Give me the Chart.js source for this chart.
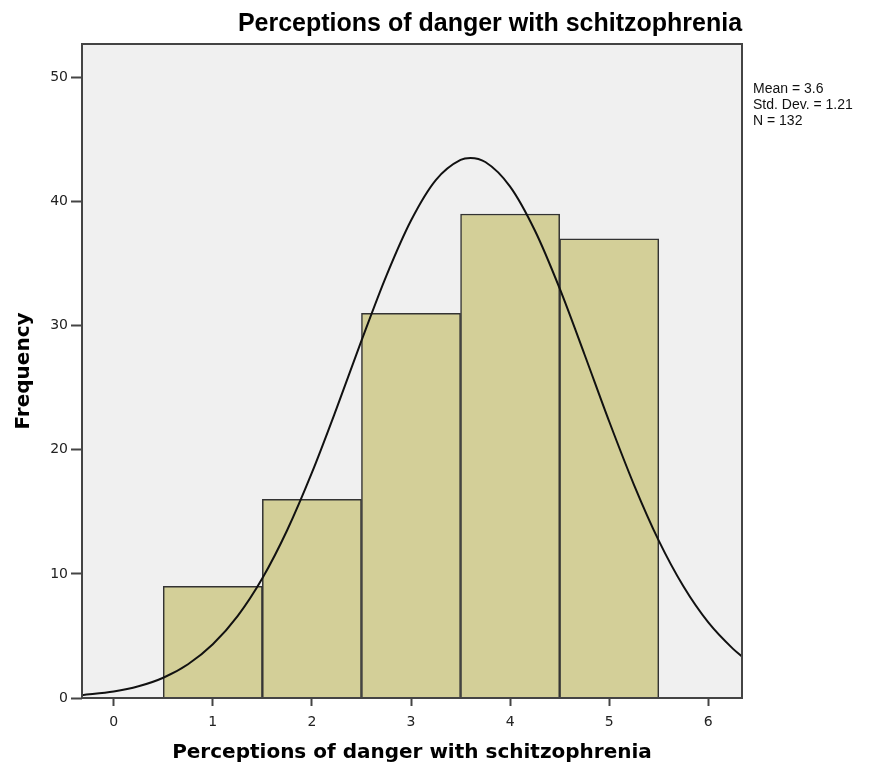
<!DOCTYPE html>
<html>
<head>
<meta charset="utf-8">
<script src="https://cdn.jsdelivr.net/npm/chart.js@4/dist/chart.umd.min.js"></script>
<style>
html,body{margin:0;padding:0;background:#fff;}
#wrap{width:878px;height:775px;position:relative;}
</style>
</head>
<body>
<div id="wrap"><canvas id="c" width="878" height="775"></canvas></div>
<script>
// Histogram data
const binCenters = [1, 2, 3, 4, 5];
const frequencies = [9, 16, 31, 39, 37];
// Normal curve points
const curveX = [-0.32, 0, 0.25, 0.5, 0.75, 1.0, 1.25, 1.5, 1.75, 2.0, 2.25, 2.5, 2.75, 3.0, 3.25, 3.5, 3.6, 3.75, 4.0, 4.25, 4.5, 4.75, 5.0, 5.25, 5.5, 5.75, 6.0, 6.25, 6.34];
const curveY = [0.23, 0.52, 0.94, 1.63, 2.72, 4.33, 6.60, 9.65, 13.52, 18.16, 23.36, 28.79, 34.00, 38.48, 41.74, 43.37, 43.52, 43.19, 41.21, 37.67, 33.00, 27.70, 22.28, 17.18, 12.68, 8.98, 6.09, 3.96, 3.35];
const xTicks = [0, 1, 2, 3, 4, 5, 6];
const yTicks = [0, 10, 20, 30, 40, 50];
const titleText = 'Perceptions of danger with schitzophrenia';
const xTitle = 'Perceptions of danger with schitzophrenia';
const yTitle = 'Frequency';
const statsLines = ['Mean = 3.6', 'Std. Dev. = 1.21', 'N = 132'];

const decor = {
  id: 'decor',
  beforeDraw(chart) {
    const {ctx, chartArea: a} = chart;
    ctx.save();
    ctx.fillStyle = '#f0f0f0';
    ctx.fillRect(a.left, a.top, a.right - a.left, a.bottom - a.top);
    ctx.restore();
  },
  afterDraw(chart) {
    const {ctx, chartArea: a} = chart;
    ctx.save();
    ctx.strokeStyle = '#444';
    ctx.lineWidth = 2;
    ctx.strokeRect(a.left, a.top, a.right - a.left, a.bottom - a.top);
    // Title
    ctx.fillStyle = '#000';
    ctx.font = 'bold 25px "Liberation Sans", Arial, sans-serif';
    ctx.textAlign = 'center';
    ctx.textBaseline = 'middle';
    ctx.fillText(titleText, 490, 24);
    // Stats
    ctx.font = '14px "Liberation Sans", Arial, sans-serif';
    ctx.textAlign = 'left';
    ctx.fillStyle = '#111';
    statsLines.forEach((s, i) => ctx.fillText(s, 753, 89 + i * 16));
    // Axis titles
    ctx.fillStyle = '#000';
    ctx.font = 'bold 20px "DejaVu Sans", sans-serif';
    ctx.textAlign = 'center';
    ctx.fillText(xTitle, (a.left + a.right) / 2, 753);
    ctx.translate(24, 371);
    ctx.rotate(-Math.PI / 2);
    ctx.fillText(yTitle, 0, 0);
    ctx.restore();
  }
};

new Chart(document.getElementById('c'), {
  data: {
    datasets: [
      {
        type: 'line',
        data: curveX.map((x, i) => ({x: x, y: curveY[i]})),
        borderColor: '#111',
        borderWidth: 2,
        pointRadius: 0,
        tension: 0.4,
        cubicInterpolationMode: 'monotone',
        fill: false,
        order: 0
      },
      {
        type: 'bar',
        data: binCenters.map((x, i) => ({x: x, y: frequencies[i]})),
        backgroundColor: '#d3cf98',
        borderColor: '#333',
        borderWidth: 1.5,
        barPercentage: 1.0,
        categoryPercentage: 1.0,
        order: 1
      }
    ]
  },
  options: {
    responsive: false,
    animation: false,
    layout: {padding: {top: 44, right: 136, left: 0, bottom: 0}},
    plugins: {legend: {display: false}, tooltip: {enabled: false}, title: {display: false}},
    scales: {
      x: {
        type: 'linear',
        min: -0.32,
        max: 6.34,
        offset: false,
        afterBuildTicks: s => { s.ticks = xTicks.map(v => ({value: v})); },
        afterFit: s => { s.height = 77; },
        grid: {offset: false, drawOnChartArea: false, drawTicks: true, tickLength: 8, tickColor: '#444', tickWidth: 2},
        border: {display: false},
        ticks: {color: '#222', font: {family: '"DejaVu Sans", sans-serif', size: 14}, padding: 8, maxRotation: 0}
      },
      y: {
        type: 'linear',
        min: 0,
        max: 52.7,
        afterBuildTicks: s => { s.ticks = yTicks.map(v => ({value: v})); },
        afterFit: s => { s.width = 82; },
        grid: {drawOnChartArea: false, drawTicks: true, tickLength: 11, tickColor: '#444', tickWidth: 2},
        border: {display: false},
        ticks: {color: '#222', font: {family: '"DejaVu Sans", sans-serif', size: 14}, padding: 3}
      }
    }
  },
  plugins: [decor]
});
</script>
</body>
</html>
